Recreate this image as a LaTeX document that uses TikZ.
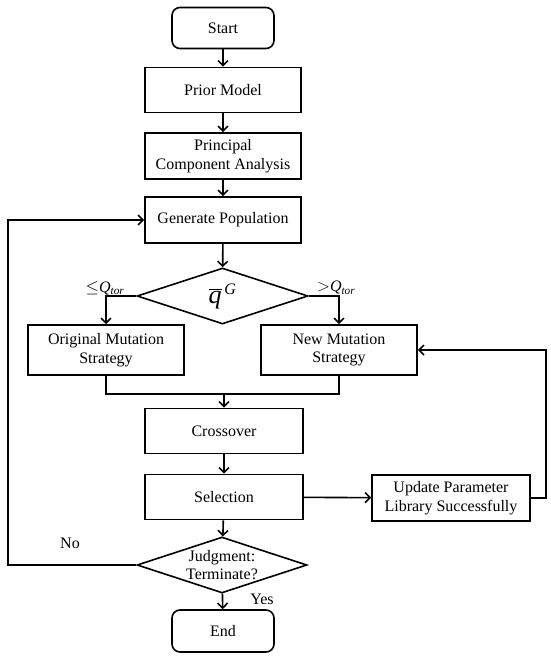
\documentclass[tikz,border=0pt]{standalone}
\usepackage{fontspec}
\setmainfont{Liberation Serif}
\usetikzlibrary{arrows.meta,shapes.geometric}
\begin{document}
\begin{tikzpicture}[x=1pt,y=-1pt,
  every node/.style={font=\fontsize{16}{18.5}\selectfont},
  box/.style={draw,line width=1.6pt,align=center,inner sep=0pt},
  rbox/.style={box,rounded corners=8pt},
  dia/.style={draw,line width=1.6pt,shape=diamond,inner sep=0pt},
  arr/.style={line width=1.6pt,-{Straight Barb[length=5pt,width=10pt]}},
  ln/.style={line width=1.6pt},
  lbl/.style={inner sep=0pt,align=center}
]
\useasboundingbox (0,0) rectangle (550,659);
\node[rbox,minimum width=102pt,minimum height=41pt] (start) at (223,28) {Start};
\node[box,minimum width=156pt,minimum height=45pt] (prior) at (223,90) {Prior Model};
\node[box,minimum width=156pt,minimum height=46pt] (pca) at (223,156) {Principal\\Component Analysis};
\node[box,minimum width=156pt,minimum height=46pt] (gen) at (223,220) {Generate Population};
\node[dia,minimum width=171pt,minimum height=56pt] (d1) at (222.5,296) {};
\node[lbl] (d1t) at (222.5,296) {\fontsize{26}{26}\selectfont$\overline{\textit{q}}^{\,\textit{\fontsize{16}{16}\selectfont G}}$};
\node[box,minimum width=156pt,minimum height=50pt] (orig) at (106,350) {Original Mutation\\Strategy};
\node[box,minimum width=156pt,minimum height=50pt] (new) at (339,350) {New Mutation\\Strategy};
\node[box,minimum width=158pt,minimum height=45pt] (cross) at (224,431) {Crossover};
\node[box,minimum width=158pt,minimum height=45pt] (sel) at (224,497) {Selection};
\node[box,minimum width=158pt,minimum height=46pt] (upd) at (451,498) {Update Parameter\\Library Successfully};
\node[dia,minimum width=170pt,minimum height=56pt] (d2) at (222,565) {};
\node[lbl] (d2t) at (222,565) {Judgment:\\Terminate?};
\node[rbox,minimum width=102pt,minimum height=42pt] (end) at (223,631) {End};

\node[lbl] (le) at (105,288) {$\leq$\textit{Q}\textsubscript{\textit{tor}}};
\node[lbl] (gt) at (336,288) {$>$\textit{Q}\textsubscript{\textit{tor}}};
\node[lbl] (yes) at (262,599) {Yes};
\node[lbl] (no) at (70,543) {No};

\coordinate (m) at (224,394);
\coordinate (r) at (546,498);
\coordinate (l) at (8,565);

\draw[arr] (start) -- (prior);
\draw[arr] (prior) -- (pca);
\draw[arr] (pca) -- (gen);
\draw[arr] (gen) -- (d1);
\draw[arr] (d1.west) -| (orig.north);
\draw[arr] (d1.east) -| (new.north);
\draw[ln] (orig.south) |- (m) -| (new.south);
\draw[arr] (m) -- (cross.north);
\draw[arr] (cross) -- (sel);
\draw[arr] (sel) -- (upd);
\draw[arr] (sel) -- (d2);
\draw[arr] (d2) -- (end);
\draw[arr] (upd.east) -- (r) |- (new.east);
\draw[arr] (d2.west) -- (l) |- (gen.west);
\end{tikzpicture}
\end{document}
